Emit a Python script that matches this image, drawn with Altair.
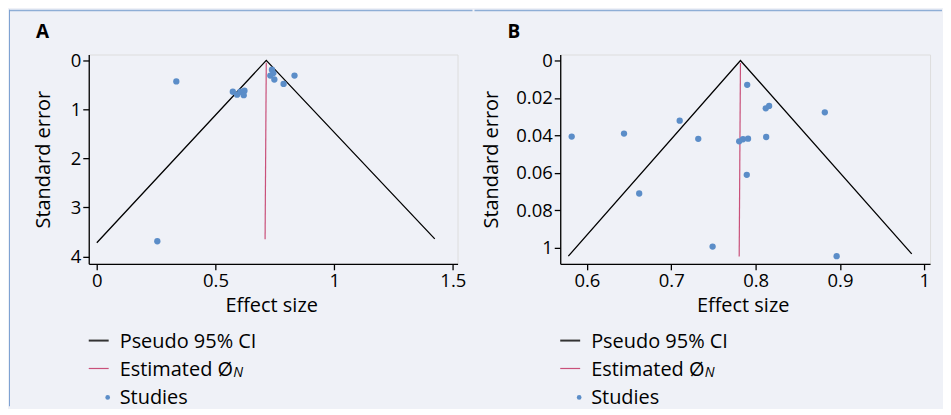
import altair as alt
import pandas as pd

# ---------------- data ----------------
A_EFFECT = [0.335, 0.255, 0.573, 0.591, 0.605, 0.622, 0.619, 0.738, 0.744, 0.731, 0.748, 0.787, 0.833]
A_SE = [0.43, 3.69, 0.64, 0.70, 0.64, 0.62, 0.71, 0.19, 0.26, 0.31, 0.39, 0.48, 0.31]
A_CI_EFFECT = [0.0, 0.714, 1.424]
A_CI_SE = [3.72, 0.0, 3.64]
A_EST_EFFECT = [0.714, 0.709]
A_EST_SE = [0.05, 3.65]
A_X_DOMAIN = [-0.034, 1.52]
A_Y_DOMAIN = [-0.12, 4.15]
A_X_TICKS = [0, 0.5, 1, 1.5]
A_X_LABELS = ["0", "0.5", "1", "1.5"]
A_Y_TICKS = [0, 1, 2, 3, 4]
A_Y_LABELS = ["0", "1", "2", "3", "4"]

B_EFFECT = [0.582, 0.644, 0.662, 0.710, 0.732, 0.749, 0.7805, 0.785, 0.791, 0.790, 0.7895,
            0.812, 0.816, 0.8125, 0.882, 0.896]
B_SE = [0.0407, 0.0391, 0.0711, 0.0322, 0.0419, 0.0995, 0.0432, 0.0421, 0.0418, 0.0130, 0.0611,
        0.0256, 0.0243, 0.0409, 0.0277, 0.1046]
B_CI_EFFECT = [0.578, 0.782, 0.985]
B_CI_SE = [0.1046, 0.0, 0.1034]
B_EST_EFFECT = [0.782, 0.7805]
B_EST_SE = [0.0014, 0.1048]
B_X_DOMAIN = [0.5684, 1.0067]
B_Y_DOMAIN = [-0.0032, 0.1087]
B_X_TICKS = [0.6, 0.7, 0.8, 0.9, 1.0]
B_X_LABELS = ["0.6", "0.7", "0.8", "0.9", "1"]
B_Y_TICKS = [0, 0.02, 0.04, 0.06, 0.08, 0.1]
B_Y_LABELS = ["0", "0.02", "0.04", "0.06", "0.08", "1"]

PANEL_LABELS = ["A", "B"]
X_TITLE = "Effect size"
Y_TITLE = "Standard error"
LEGEND_LABELS = ["Pseudo 95% CI", "Estimated \u00d8", "Studies"]
LEGEND_SUBSCRIPT = "N"

# ---------------- styling ----------------
BG = "#eff1f7"
BORDER = "#8eaed6"
DOT = "#5b8dc8"
EST = "#c9507a"
FONT = "Open Sans"
H = 210


def label_expr(values, labels):
    expr = "''"
    for v, l in zip(reversed(values), reversed(labels)):
        expr = f"(abs(datum.value - ({v})) < 1e-9) ? '{l}' : ({expr})"
    return expr


def panel(label, eff, se, ci_e, ci_s, est_e, est_s, xdom, ydom, xt, xl, yt, yl,
          width, ytitle_x, top_band, left_band):
    xs = alt.Scale(domain=xdom, nice=False, zero=False)
    ys = alt.Scale(domain=ydom, nice=False, zero=False, reverse=True)
    common = dict(domainColor="black", tickColor="black", domainWidth=1.3, tickWidth=1.3,
                  tickSize=6, labelPadding=2, grid=False, labelFont=FONT, titleFont=FONT,
                  labelFontSize=18.5, titleFontSize=20, labelColor="black", titleColor="black",
                  titleFontWeight="normal")
    xax = alt.Axis(values=xt, labelExpr=label_expr(xt, xl), title=X_TITLE,
                   titleX=183, titleY=48, titleBaseline="alphabetic", titleAlign="center",
                   labelFlush=False, labelOverlap=False, **common)
    yax = alt.Axis(values=yt, labelExpr=label_expr(yt, yl), title=Y_TITLE, titleAngle=-90,
                   titleX=ytitle_x, titleY=H / 2, titleBaseline="alphabetic", titleAlign="center",
                   labelFlush=False, labelOverlap=False, **common)
    X = alt.X("e:Q", scale=xs, axis=xax)
    Y = alt.Y("s:Q", scale=ys, axis=yax)

    ci_df = pd.DataFrame({"e": ci_e, "s": ci_s, "i": list(range(len(ci_e)))})
    est_df = pd.DataFrame({"e": est_e, "s": est_s, "i": list(range(len(est_e)))})
    pts_df = pd.DataFrame({"e": eff, "s": se})

    ci = alt.Chart(ci_df).mark_line(color="black", strokeWidth=1.3).encode(x=X, y=Y, order="i:O")
    est = alt.Chart(est_df).mark_line(color=EST, strokeWidth=1.2).encode(x=X, y=Y, order="i:O")
    pts = alt.Chart(pts_df).mark_circle(color=DOT, size=40, opacity=1).encode(x=X, y=Y)

    one = pd.DataFrame({"k": [0]})
    title = alt.Chart(one).mark_text(text=label, font=FONT, fontSize=19, fontWeight="bold",
                                     align="left", baseline="alphabetic", color="black").encode(
        x=alt.value(-53), y=alt.value(-17))

    leg_ci = alt.Chart(one).mark_rule(color="#333333", strokeWidth=2).encode(
        x=alt.value(0), x2=alt.value(20), y=alt.value(287))
    leg_est = alt.Chart(one).mark_rule(color=EST, strokeWidth=1.2).encode(
        x=alt.value(0), x2=alt.value(20), y=alt.value(315))
    leg_pt = alt.Chart(one).mark_circle(color=DOT, size=22, opacity=1).encode(
        x=alt.value(19), y=alt.value(344))
    leg_txt = []
    for lab, yy in zip(LEGEND_LABELS, [294.5, 322.5, 350.5]):
        leg_txt.append(alt.Chart(one).mark_text(text=lab, font=FONT, fontSize=20, align="left",
                                                baseline="alphabetic", color="black").encode(
            x=alt.value(31), y=alt.value(yy)))
    leg_sub = alt.Chart(one).mark_text(text=LEGEND_SUBSCRIPT, font=FONT, fontSize=14,
                                       fontStyle="italic", align="left", baseline="alphabetic",
                                       color="black").encode(x=alt.value(145), y=alt.value(323.5))

    bands = [alt.Chart(one).mark_rect(color=BORDER, strokeWidth=0).encode(
        x=alt.value(top_band[0]), x2=alt.value(top_band[1]),
        y=alt.value(-45), y2=alt.value(-43.5))]
    if left_band:
        bands.append(alt.Chart(one).mark_rect(color="#7ea2d2", strokeWidth=0).encode(
            x=alt.value(-80), x2=alt.value(-79), y=alt.value(-45), y2=alt.value(353)))

    return alt.layer(ci, est, pts, title, leg_ci, leg_est, leg_pt, *leg_txt, leg_sub, *bands).properties(
        width=width, height=H)


pA = panel(PANEL_LABELS[0], A_EFFECT, A_SE, A_CI_EFFECT, A_CI_SE, A_EST_EFFECT, A_EST_SE,
           A_X_DOMAIN, A_Y_DOMAIN, A_X_TICKS, A_X_LABELS, A_Y_TICKS, A_Y_LABELS,
           370, -39, (-80, 385), True)
pB = panel(PANEL_LABELS[1], B_EFFECT, B_SE, B_CI_EFFECT, B_CI_SE, B_EST_EFFECT, B_EST_SE,
           B_X_DOMAIN, B_Y_DOMAIN, B_X_TICKS, B_X_LABELS, B_Y_TICKS, B_Y_LABELS,
           371, -63, (-86, 383), False)

chart = alt.hconcat(pA, pB, spacing=0).properties(
    background=BG, padding=0
).configure_view(stroke=None).configure(font=FONT)

chart.save("out.html", embed_options={"renderer": "svg", "actions": False})
